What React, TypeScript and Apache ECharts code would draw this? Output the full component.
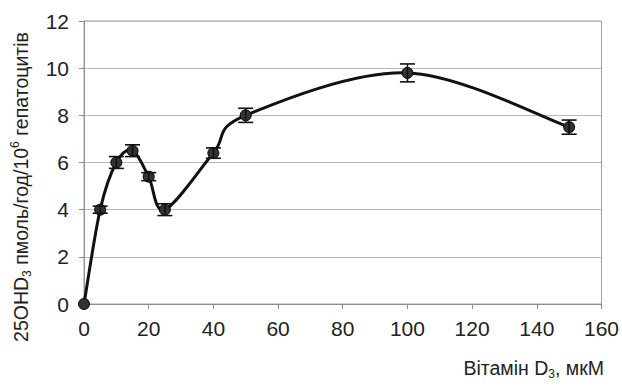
import React, { useEffect, useRef } from "react";
import * as echarts from "echarts";

const xValues = [0, 5, 10, 15, 20, 25, 40, 50, 100, 150];
const yValues = [0, 4.0, 6.0, 6.5, 5.4, 4.0, 6.4, 8.0, 9.8, 7.5];
const yErrors = [0, 0.15, 0.25, 0.25, 0.17, 0.25, 0.22, 0.3, 0.38, 0.3];
const xTicks = { min: 0, max: 160, interval: 20 };
const yTicks = { min: 0, max: 12, interval: 2 };

const FONT = "'Liberation Sans', Arial, sans-serif";

export default function App() {
  const ref = useRef<HTMLDivElement>(null);
  useEffect(() => {
    document.body.style.margin = "0";
    const chart = echarts.init(ref.current!, null, { renderer: "svg" });
    const pts = xValues.map((x, i) => [x, yValues[i]]);

    const curveItem = (params: any, api: any) => {
      if (params.dataIndex !== 0) return null;
      const P = pts.map((p) => api.coord(p));
      const n = P.length;
      let d = `M${P[0][0]},${P[0][1]}`;
      for (let i = 0; i < n - 1; i++) {
        const p0 = P[Math.max(i - 1, 0)];
        const p1 = P[i];
        const p2 = P[i + 1];
        const p3 = P[Math.min(i + 2, n - 1)];
        const c1 = [p1[0] + (p2[0] - p0[0]) / 6, p1[1] + (p2[1] - p0[1]) / 6];
        const c2 = [p2[0] - (p3[0] - p1[0]) / 6, p2[1] - (p3[1] - p1[1]) / 6];
        d += ` C${c1[0]},${c1[1]} ${c2[0]},${c2[1]} ${p2[0]},${p2[1]}`;
      }
      return {
        type: "path",
        shape: { pathData: d },
        style: { fill: "none", stroke: "#111", lineWidth: 3, lineJoin: "round" },
      };
    };

    const errItem = (params: any, api: any) => {
      const x = api.value(0);
      const y = api.value(1);
      const e = api.value(2);
      if (!e) return null;
      const top = api.coord([x, y + e]);
      const bot = api.coord([x, y - e]);
      const w = 7.5;
      const st = { stroke: "#111", lineWidth: 1.6 };
      return {
        type: "group",
        children: [
          { type: "line", shape: { x1: top[0], y1: top[1], x2: bot[0], y2: bot[1] }, style: st },
          { type: "line", shape: { x1: top[0] - w, y1: top[1], x2: top[0] + w, y2: top[1] }, style: st },
          { type: "line", shape: { x1: bot[0] - w, y1: bot[1], x2: bot[0] + w, y2: bot[1] }, style: st },
        ],
      };
    };

    chart.setOption({
      animation: false,
      grid: {
        left: 84,
        right: 17,
        top: 21,
        bottom: 83,
        show: true,
        borderColor: "#a0a0a0",
        borderWidth: 1,
      },
      xAxis: {
        type: "value",
        min: xTicks.min,
        max: xTicks.max,
        interval: xTicks.interval,
        axisLine: { show: true, lineStyle: { color: "#909090", width: 1 } },
        axisTick: { show: true, length: 5, lineStyle: { color: "#909090" } },
        splitLine: { show: false },
        axisLabel: { color: "#222", fontSize: 21, fontFamily: FONT, margin: 14 },
      },
      yAxis: {
        type: "value",
        min: yTicks.min,
        max: yTicks.max,
        interval: yTicks.interval,
        axisLine: { show: true, lineStyle: { color: "#909090", width: 1 } },
        axisTick: { show: true, length: 5, lineStyle: { color: "#909090" } },
        splitLine: { show: true, lineStyle: { color: "#b8b8b8", width: 1 } },
        axisLabel: { color: "#222", fontSize: 21, fontFamily: FONT, margin: 15 },
      },
      series: [
        {
          type: "custom",
          renderItem: curveItem,
          data: [[0, 0]],
          clip: false,
          z: 2,
          silent: true,
        },
        {
          type: "scatter",
          data: pts,
          symbol: "circle",
          symbolSize: 11,
          itemStyle: { color: "#333", borderColor: "#000", borderWidth: 1, opacity: 1 },
          z: 3,
          silent: true,
        },
        {
          type: "custom",
          renderItem: errItem,
          data: xValues.map((x, i) => [x, yValues[i], yErrors[i]]),
          clip: false,
          z: 4,
          silent: true,
        },
      ],
      graphic: [
        {
          type: "text",
          x: 21,
          y: 187,
          rotation: Math.PI / 2,
          style: {
            text: "{a|25OHD}{s|3}{a| пмоль/год/10}{p|6}{a| гепатоцитів}",
            align: "center",
            verticalAlign: "middle",
            fill: "#222",
            rich: {
              a: { fontSize: 19.5, fontFamily: FONT, fill: "#222", lineHeight: 24 },
              s: { fontSize: 12, fontFamily: FONT, fill: "#222", lineHeight: 13, verticalAlign: "bottom" },
              p: { fontSize: 12, fontFamily: FONT, fill: "#222", lineHeight: 13, verticalAlign: "top" },
            },
          },
        },
        {
          type: "text",
          x: 604,
          y: 368,
          style: {
            text: "{a|Вітамін D}{s|3}{a|, мкМ}",
            align: "right",
            verticalAlign: "middle",
            fill: "#222",
            rich: {
              a: { fontSize: 19.5, fontFamily: FONT, fill: "#222", lineHeight: 24 },
              s: { fontSize: 12, fontFamily: FONT, fill: "#222", lineHeight: 13, verticalAlign: "bottom" },
            },
          },
        },
      ],
    });
    return () => chart.dispose();
  }, []);
  return <div ref={ref} style={{ width: 622, height: 387 }} />;
}
